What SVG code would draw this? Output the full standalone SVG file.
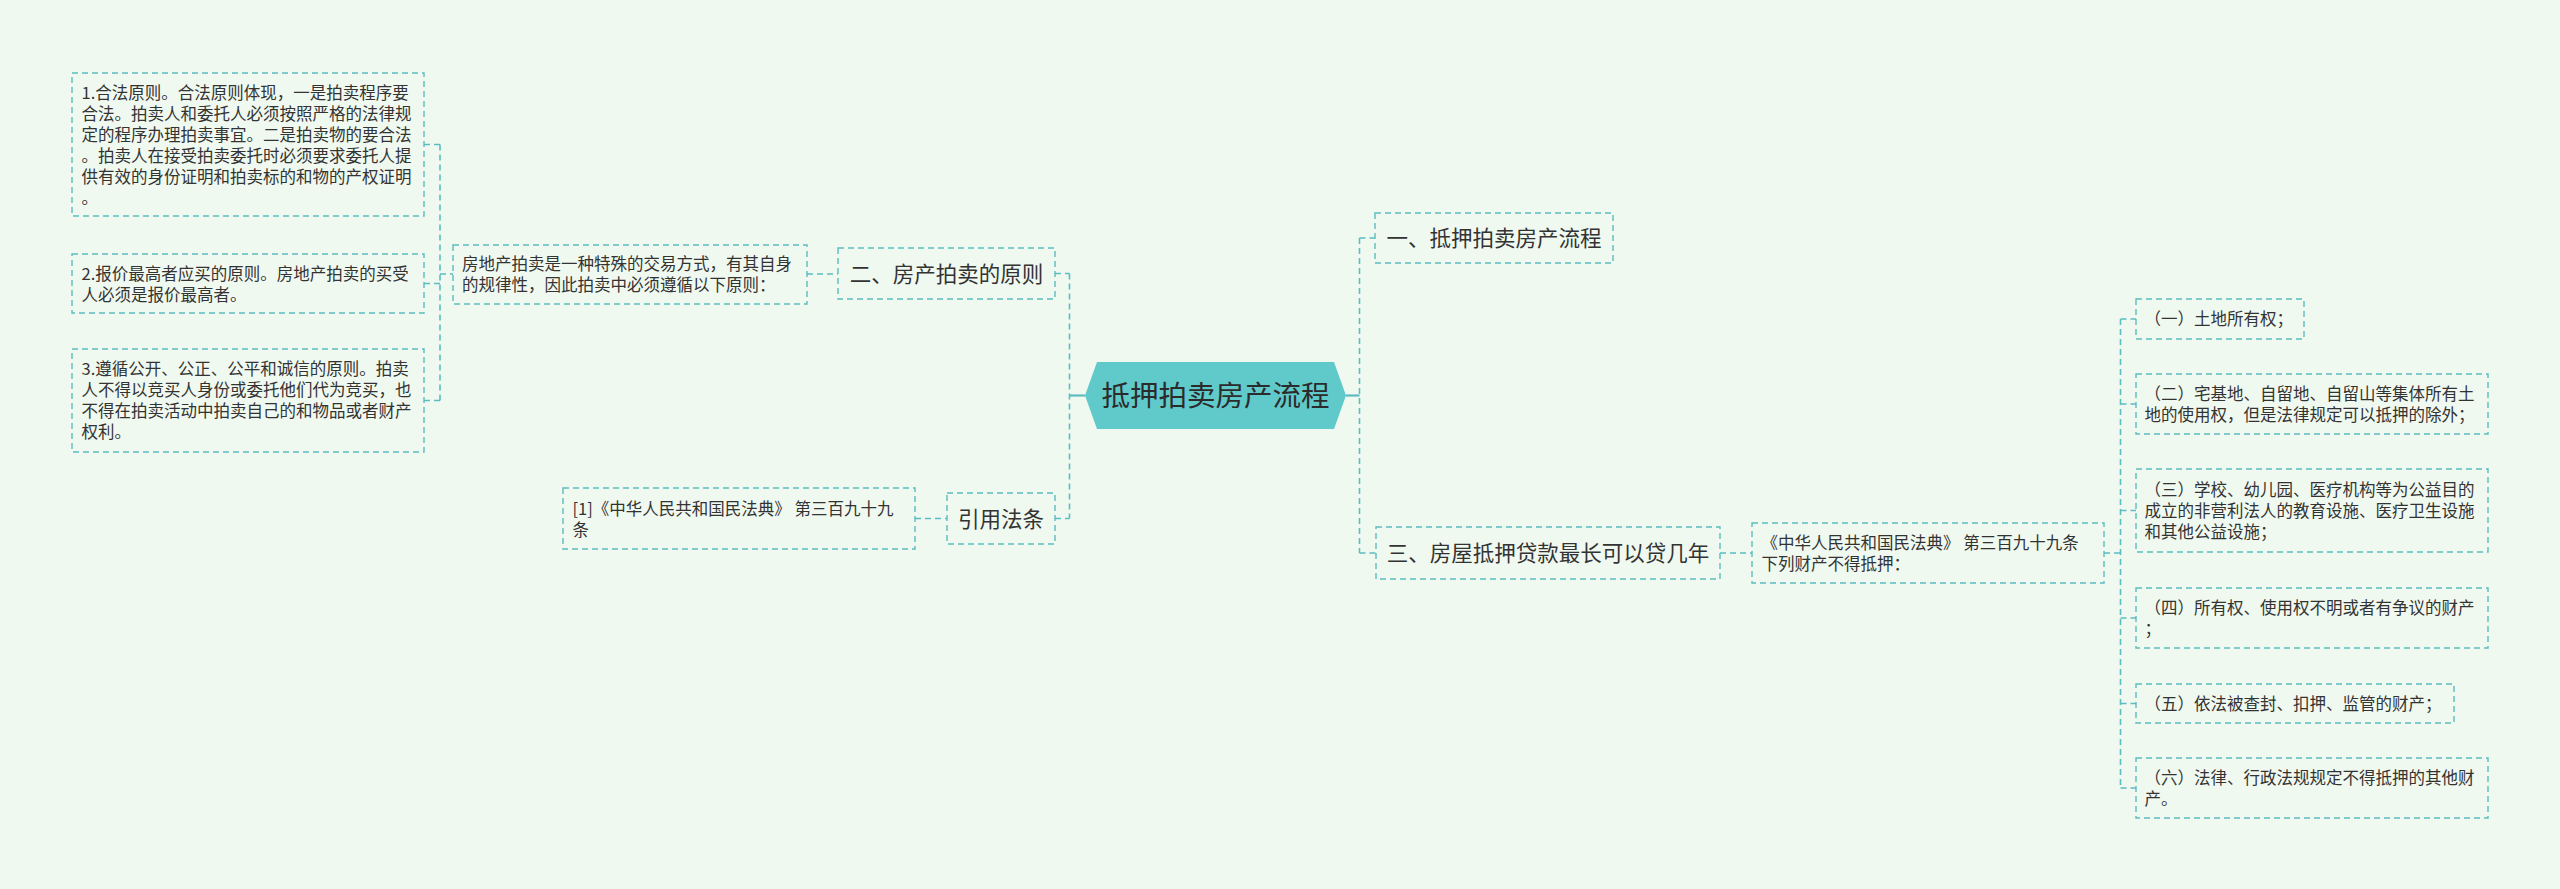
<svg xmlns="http://www.w3.org/2000/svg" width="2560" height="889" viewBox="0 0 2560 889">
<style>
.bg{fill:#F0F9F0}
.box{fill:#F0F9F0;stroke:#5BBDC1;stroke-width:1.4;stroke-dasharray:6 4}
.conn{fill:none;stroke:#5BBDC1;stroke-width:1.6;stroke-dasharray:6 4}
.solid{fill:none;stroke:#5BBDC1;stroke-width:2.2}
.t{font-family:"Noto Sans CJK SC","Noto Sans",sans-serif;font-size:16.5px;fill:#333}
.tl{font-family:"Noto Sans CJK SC","Noto Sans",sans-serif;font-size:21.5px;fill:#333}
.tc{font-family:"Noto Sans CJK SC","Noto Sans",sans-serif;font-size:28.5px;fill:#2b2b2b}
</style>
<rect class="bg" x="0" y="0" width="2560" height="889"/>
<g id="connectors">
<path class="conn" d="M424,144.5 H440 M424,283.5 H440 M424,400.5 H440 M440,144.5 V400.5 M440,274 H453"/>
<path class="conn" d="M807,274 H838"/>
<path class="conn" d="M1055,273.5 H1069.5 M1069.5,273.5 V518.5 M1055,518.5 H1069.5"/>
<path class="solid" d="M1069.5,395.5 H1085"/>
<path class="conn" d="M915,518.5 H947"/>
<path class="solid" d="M1346,395.5 H1359.5"/>
<path class="conn" d="M1359.5,238 V553 M1359.5,238 H1375 M1359.5,553 H1376"/>
<path class="conn" d="M1720,553 H1752"/>
<path class="conn" d="M2104,553 H2120.5 M2120.5,319 V788 M2120.5,319 H2136 M2120.5,404 H2136 M2120.5,510.5 H2136 M2120.5,618 H2136 M2120.5,703.5 H2136 M2120.5,788 H2136"/>
</g>
<g id="root">
<polygon points="1085,395.5 1097,362 1334,362 1346,395.5 1334,429 1097,429" fill="#60C9CA"/>
<text class="tc" x="1215.5" y="406" text-anchor="middle">抵押拍卖房产流程</text>
</g>
<g id="n-a1">
<rect class="box" x="72" y="73" width="352" height="143"/>
<text class="t" x="81.5"><tspan x="81.5" y="98.5">1.合法原则。合法原则体现，一是拍卖程序要</tspan><tspan x="81.5" y="119.5">合法。拍卖人和委托人必须按照严格的法律规</tspan><tspan x="81.5" y="140.5">定的程序办理拍卖事宜。二是拍卖物的要合法</tspan><tspan x="81.5" y="161.5">。拍卖人在接受拍卖委托时必须要求委托人提</tspan><tspan x="81.5" y="182.5">供有效的身份证明和拍卖标的和物的产权证明</tspan><tspan x="81.5" y="203.5">。</tspan></text>
</g>
<g id="n-a2">
<rect class="box" x="72" y="254" width="352" height="59"/>
<text class="t"><tspan x="81.5" y="279.5">2.报价最高者应买的原则。房地产拍卖的买受</tspan><tspan x="81.5" y="300.5">人必须是报价最高者。</tspan></text>
</g>
<g id="n-a3">
<rect class="box" x="72" y="349" width="352" height="103"/>
<text class="t"><tspan x="81.5" y="375">3.遵循公开、公正、公平和诚信的原则。拍卖</tspan><tspan x="81.5" y="396">人不得以竞买人身份或委托他们代为竞买，也</tspan><tspan x="81.5" y="417">不得在拍卖活动中拍卖自己的和物品或者财产</tspan><tspan x="81.5" y="438">权利。</tspan></text>
</g>
<g id="n-p1">
<rect class="box" x="453" y="245" width="354" height="59"/>
<text class="t"><tspan x="462" y="270">房地产拍卖是一种特殊的交易方式，有其自身</tspan><tspan x="462" y="291">的规律性，因此拍卖中必须遵循以下原则：</tspan></text>
</g>
<g id="n-two">
<rect class="box" x="838" y="248" width="217" height="51"/>
<text class="tl" x="946.5" y="281.5" text-anchor="middle">二、房产拍卖的原则</text>
</g>
<g id="n-cite">
<rect class="box" x="947" y="493" width="108" height="51"/>
<text class="tl" x="1001" y="526.5" text-anchor="middle">引用法条</text>
</g>
<g id="n-cite1">
<rect class="box" x="563" y="488" width="352" height="61"/>
<text class="t"><tspan x="572.5" y="514.5">[1]《中华人民共和国民法典》 第三百九十九</tspan><tspan x="572.5" y="535.5">条</tspan></text>
</g>
<g id="n-one">
<rect class="box" x="1375" y="213" width="238" height="50"/>
<text class="tl" x="1494" y="246" text-anchor="middle">一、抵押拍卖房产流程</text>
</g>
<g id="n-three">
<rect class="box" x="1376" y="527" width="344" height="52"/>
<text class="tl" x="1548" y="561" text-anchor="middle">三、房屋抵押贷款最长可以贷几年</text>
</g>
<g id="n-law">
<rect class="box" x="1752" y="523" width="352" height="60"/>
<text class="t"><tspan x="1761.5" y="548.5">《中华人民共和国民法典》 第三百九十九条</tspan><tspan x="1761.5" y="569.5">下列财产不得抵押：</tspan></text>
</g>
<g id="n-i1">
<rect class="box" x="2136" y="299" width="168" height="40"/>
<text class="t" x="2144.5" y="325">（一）土地所有权；</text>
</g>
<g id="n-i2">
<rect class="box" x="2136" y="374" width="352" height="60"/>
<text class="t"><tspan x="2144.5" y="399.5">（二）宅基地、自留地、自留山等集体所有土</tspan><tspan x="2144.5" y="420.5">地的使用权，但是法律规定可以抵押的除外；</tspan></text>
</g>
<g id="n-i3">
<rect class="box" x="2136" y="469" width="352" height="83"/>
<text class="t"><tspan x="2144.5" y="496">（三）学校、幼儿园、医疗机构等为公益目的</tspan><tspan x="2144.5" y="517">成立的非营利法人的教育设施、医疗卫生设施</tspan><tspan x="2144.5" y="538">和其他公益设施；</tspan></text>
</g>
<g id="n-i4">
<rect class="box" x="2136" y="588" width="352" height="60"/>
<text class="t"><tspan x="2144.5" y="613.5">（四）所有权、使用权不明或者有争议的财产</tspan><tspan x="2144.5" y="634.5">；</tspan></text>
</g>
<g id="n-i5">
<rect class="box" x="2136" y="684" width="318" height="39"/>
<text class="t" x="2144.5" y="709.5">（五）依法被查封、扣押、监管的财产；</text>
</g>
<g id="n-i6">
<rect class="box" x="2136" y="758" width="352" height="60"/>
<text class="t"><tspan x="2144.5" y="783.5">（六）法律、行政法规规定不得抵押的其他财</tspan><tspan x="2144.5" y="804.5">产。</tspan></text>
</g>
</svg>
